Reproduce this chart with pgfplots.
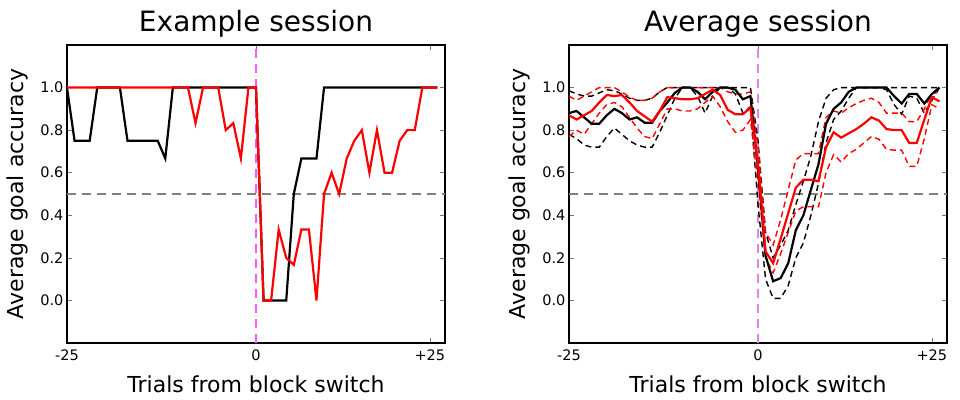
\documentclass[border=0pt]{standalone}
\usepackage{fontspec}
\setmainfont{DejaVu Sans}
\usepackage{pgfplots}
\pgfplotsset{compat=1.18}
\definecolor{vmag}{RGB}{250,90,250}
\definecolor{vlet}{RGB}{220,135,230}
\begin{document}
\begin{tikzpicture}
\path[use as bounding box] (0,0) rectangle (960pt,399pt);
\pgfplotsset{myax/.style={
  scale only axis, width=378pt, height=298pt,
  xmin=-25, xmax=25, ymin=-0.2, ymax=1.2,
  xtick={-25,0,23}, xticklabels={-25,0,+25},
  ytick={0,0.2,0.4,0.6,0.8,1.0},
  yticklabel style={/pgf/number format/fixed,/pgf/number format/fixed zerofill,/pgf/number format/precision=1},
  xticklabel style={yshift=-3pt},
  /pgf/number format/assume math mode=true,
  tick label style={font=\fontsize{14.5}{16}\selectfont, text=black},
  axis line style={line width=2pt},
  tick style={line width=0.6pt, black!55},
  major tick length=5pt,
  tick align=inside,
  xlabel={Trials from block switch}, ylabel={Average goal accuracy},
  every axis x label/.style={at={(axis description cs:0.5,0)}, anchor=center, yshift=-41.5pt, font=\fontsize{22}{26}\selectfont},
  every axis y label/.style={at={(axis description cs:0,0.5)}, xshift=-50pt, rotate=90, anchor=center, font=\fontsize{22}{26}\selectfont},
  title style={anchor=base, yshift=7pt, font=\fontsize{28}{32}\selectfont},
  anchor=south west,
  clip=true,
}}
\begin{axis}[myax, at={(67pt,56pt)}, title={Example session}]
\addplot[gray, line width=1.5pt, dash pattern=on 9pt off 6pt] coordinates {(-25,0.5) (25,0.5)};
\addplot[vmag, line width=1.6pt, dash pattern=on 9pt off 6pt] coordinates {(0,-0.2) (0,1.2)};
\addplot[black, line width=2.2pt] coordinates {
(-25,1) (-24,0.75) (-23,0.75) (-22,0.75) (-21,1) (-20,1) (-19,1) (-18,1) (-17,0.75) (-16,0.75) (-15,0.75) (-14,0.75) (-13,0.75) (-12,0.667) (-11,1) (-10,1) (-9,1) (-8,1) (-7,1) (-6,1) (-5,1) (-4,1) (-3,1) (-2,1) (-1,1) (0,1)
(1,0) (2,0) (3,0) (4,0) (5,0.5) (6,0.667) (7,0.667) (8,0.667) (9,1) (10,1) (11,1) (12,1) (13,1) (14,1) (15,1) (16,1) (17,1) (18,1) (19,1) (20,1) (21,1) (22,1) (23,1) (24,1)};
\addplot[red, line width=2.2pt] coordinates {
(-25,1) (-24,1) (-23,1) (-22,1) (-21,1) (-20,1) (-19,1) (-18,1) (-17,1) (-16,1) (-15,1) (-14,1) (-13,1) (-12,1) (-11,1) (-10,1) (-9,1) (-8,0.833) (-7,1) (-6,1) (-5,1) (-4,0.8) (-3,0.833) (-2,0.667) (-1,1) (0,1)
(1,0) (2,0) (3,0.333) (4,0.2) (5,0.167) (6,0.333) (7,0.333) (8,0) (9,0.5) (10,0.6) (11,0.5) (12,0.667) (13,0.75) (14,0.8) (15,0.6) (16,0.8) (17,0.6) (18,0.6) (19,0.75) (20,0.8) (21,0.8) (22,1) (23,1) (24,1)};
\end{axis}
\begin{axis}[myax, at={(569pt,56pt)}, title={Average session}]
\addplot[gray, line width=1.5pt, dash pattern=on 9pt off 6pt] coordinates {(-25,0.5) (25,0.5)};
\addplot[vlet, line width=1.6pt, dash pattern=on 9pt off 6pt] coordinates {(0,-0.2) (0,1.2)};
% black upper
\addplot[black, line width=1.4pt, dash pattern=on 6pt off 4pt] coordinates {
(-25,0.985) (-24,0.97) (-23,0.96) (-22,0.96) (-21,0.975) (-20,0.99) (-19,0.985) (-18,0.97) (-17,0.95) (-16,0.94) (-15,0.94) (-14,0.95) (-13,0.98) (-12,1) (-11,1) (-10,1) (-9,1) (-8,1) (-7,1) (-6,1) (-5,1) (-4,1) (-3,1) (-2,1) (-1,1) (0,0.75)
(1,0.32) (2,0.2) (3,0.26) (4,0.33) (5,0.45) (6,0.56) (7,0.68) (8,0.84) (9,0.95) (10,0.99) (11,1) (12,1) (13,1) (14,1) (15,1) (16,1) (17,1) (18,1) (19,1) (20,1) (21,1) (22,1) (23,1) (24,1)};
% black lower
\addplot[black, line width=1.4pt, dash pattern=on 6pt off 4pt] coordinates {
(-25,0.78) (-24,0.76) (-23,0.73) (-22,0.72) (-21,0.72) (-20,0.77) (-19,0.81) (-18,0.78) (-17,0.75) (-16,0.73) (-15,0.72) (-14,0.72) (-13,0.79) (-12,0.87) (-11,0.95) (-10,1) (-9,1) (-8,0.96) (-7,0.88) (-6,0.96) (-5,1) (-4,1) (-3,0.97) (-2,0.88) (-1,0.91) (0,0.45)
(1,0.1) (2,0.01) (3,0.01) (4,0.07) (5,0.2) (6,0.27) (7,0.4) (8,0.55) (9,0.74) (10,0.85) (11,0.89) (12,0.95) (13,1) (14,1) (15,1) (16,1) (17,0.99) (18,0.92) (19,0.875) (20,0.96) (21,0.95) (22,0.88) (23,0.94) (24,1)};
% red upper
\addplot[red, line width=1.4pt, dash pattern=on 6pt off 4pt] coordinates {
(-25,0.96) (-24,0.94) (-23,0.96) (-22,0.98) (-21,1) (-20,1) (-19,1) (-18,0.98) (-17,0.955) (-16,0.94) (-15,0.94) (-14,0.95) (-13,0.98) (-12,1) (-11,1) (-10,1) (-9,1) (-8,1) (-7,1) (-6,1) (-5,1) (-4,0.98) (-3,0.97) (-2,0.97) (-1,0.98) (0,0.72)
(1,0.32) (2,0.26) (3,0.38) (4,0.52) (5,0.66) (6,0.69) (7,0.69) (8,0.69) (9,0.86) (10,0.89) (11,0.88) (12,0.905) (13,0.925) (14,0.94) (15,0.95) (16,0.93) (17,0.88) (18,0.88) (19,0.88) (20,0.84) (21,0.84) (22,0.9) (23,0.97) (24,0.98)};
% red lower
\addplot[red, line width=1.4pt, dash pattern=on 6pt off 4pt] coordinates {
(-25,0.77) (-24,0.8) (-23,0.78) (-22,0.83) (-21,0.88) (-20,0.92) (-19,0.93) (-18,0.91) (-17,0.86) (-16,0.81) (-15,0.77) (-14,0.76) (-13,0.83) (-12,0.9) (-11,0.9) (-10,0.89) (-9,0.89) (-8,0.9) (-7,0.93) (-6,0.96) (-5,0.91) (-4,0.84) (-3,0.79) (-2,0.8) (-1,0.85) (0,0.55)
(1,0.2) (2,0.13) (3,0.22) (4,0.32) (5,0.42) (6,0.44) (7,0.44) (8,0.44) (9,0.6) (10,0.685) (11,0.65) (12,0.69) (13,0.71) (14,0.74) (15,0.77) (16,0.757) (17,0.71) (18,0.706) (19,0.706) (20,0.63) (21,0.63) (22,0.76) (23,0.92) (24,0.9)};
% black mean
\addplot[black, line width=2.2pt] coordinates {
(-25,0.88) (-24,0.89) (-23,0.86) (-22,0.83) (-21,0.83) (-20,0.87) (-19,0.9) (-18,0.88) (-17,0.85) (-16,0.86) (-15,0.835) (-14,0.835) (-13,0.89) (-12,0.93) (-11,0.975) (-10,1) (-9,1) (-8,0.98) (-7,0.945) (-6,0.98) (-5,1) (-4,1) (-3,0.99) (-2,0.945) (-1,0.96) (0,0.62)
(1,0.21) (2,0.09) (3,0.105) (4,0.175) (5,0.33) (6,0.4) (7,0.52) (8,0.64) (9,0.83) (10,0.9) (11,0.93) (12,0.98) (13,1) (14,1) (15,1) (16,1) (17,1) (18,0.96) (19,0.925) (20,0.97) (21,0.97) (22,0.925) (23,0.97) (24,1)};
% red mean
\addplot[red, line width=2.2pt] coordinates {
(-25,0.87) (-24,0.85) (-23,0.87) (-22,0.89) (-21,0.93) (-20,0.965) (-19,0.96) (-18,0.965) (-17,0.93) (-16,0.89) (-15,0.865) (-14,0.84) (-13,0.89) (-12,0.955) (-11,0.95) (-10,0.945) (-9,0.945) (-8,0.95) (-7,0.97) (-6,0.99) (-5,0.965) (-4,0.895) (-3,0.875) (-2,0.875) (-1,0.905) (0,0.64)
(1,0.23) (2,0.175) (3,0.29) (4,0.41) (5,0.53) (6,0.567) (7,0.567) (8,0.56) (9,0.72) (10,0.79) (11,0.765) (12,0.785) (13,0.805) (14,0.83) (15,0.86) (16,0.845) (17,0.805) (18,0.8) (19,0.8) (20,0.74) (21,0.74) (22,0.85) (23,0.955) (24,0.935)};
\end{axis}
\end{tikzpicture}
\end{document}
